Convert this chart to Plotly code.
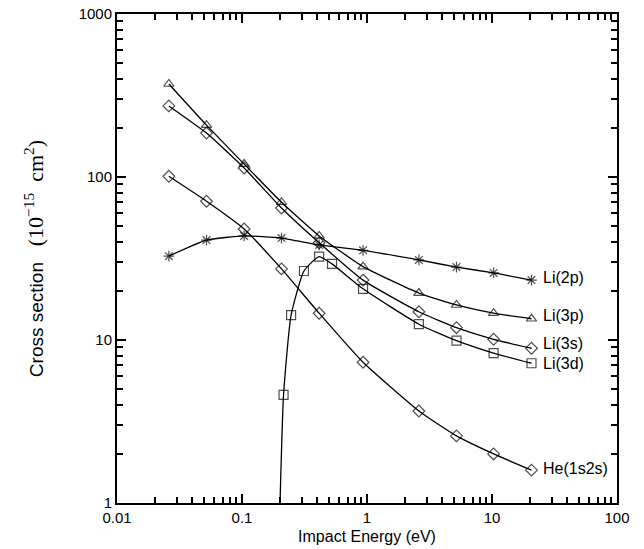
import math
import plotly.graph_objects as go

# Impact energies (eV)
energy = [0.026, 0.052, 0.104, 0.207, 0.414, 0.93, 2.6, 5.2, 10.3, 20.7]
energy_3d = [0.2, 0.215, 0.247, 0.313, 0.414, 0.525, 0.93, 2.6, 5.2, 10.3, 20.7]

li2p = [32.7, 41.0, 43.5, 42.2, 38.3, 35.5, 31.0, 28.0, 25.8, 23.3]
li3p = [372, 208, 120, 70, 43.5, 28.2, 19.4, 16.4, 14.6, 13.5]
li3s = [273, 186, 113.6, 64.5, 39.5, 23.3, 14.9, 11.9, 10.1, 8.9]
li3d = [0.8, 4.6, 14.2, 26.5, 32.5, 29.3, 20.6, 12.5, 9.9, 8.3, 7.2]
he1s2s = [101, 71, 48, 27.3, 14.6, 7.3, 3.67, 2.58, 2.0, 1.59]

x_major = [0.01, 0.1, 1, 10, 100]
x_labels = ["0.01", "0.1", "1", "10", "100"]
y_major = [1, 10, 100, 1000]
y_labels = ["1", "10", "100", "1000"]

series = [
    ("Li(2p)", energy, li2p, "asterisk-open"),
    ("Li(3p)", energy, li3p, "triangle-up-open"),
    ("Li(3s)", energy, li3s, "diamond-open"),
    ("Li(3d)", energy_3d, li3d, "square-open"),
    ("He(1s2s)", energy, he1s2s, "diamond-open"),
]
label_shift = {"Li(2p)": 3, "Li(3p)": 3, "Li(3s)": 5, "Li(3d)": 0, "He(1s2s)": 2}


def minor_ticks(lo, hi):
    vals = []
    for e in range(lo, hi):
        for m in range(2, 10):
            vals.append(m * 10.0 ** e)
    return vals


fig = go.Figure()
for name, xs, ys, sym in series:
    sizes = [9] * len(xs)
    if name == "Li(3d)":
        sizes[0] = 0
    fig.add_trace(go.Scatter(
        x=xs, y=ys, mode="lines+markers", name=name,
        line=dict(color="black", width=1.3, shape="spline", smoothing=0.5),
        marker=dict(symbol=sym, size=sizes, color="black",
                    line=dict(color="black", width=1.2)),
        showlegend=False, cliponaxis=True,
    ))
    fig.add_annotation(x=math.log10(xs[-1]), y=math.log10(ys[-1]), xref="x", yref="y",
                       text=name, showarrow=False, xanchor="left", yanchor="middle",
                       xshift=9, yshift=label_shift[name],
                       font=dict(family="Liberation Sans", size=16, color="black"))

# invisible helper trace so the minor-tick overlay axes are drawn
fig.add_trace(go.Scatter(x=[1.0], y=[10.0], xaxis="x2", yaxis="y2",
                         mode="markers", marker=dict(size=1, opacity=0),
                         showlegend=False, hoverinfo="skip"))

axis_common = dict(
    type="log", showgrid=False, zeroline=False, automargin=False,
    showline=True, linecolor="black", linewidth=2, mirror="ticks",
    ticks="inside", tickcolor="black",
    tickfont=dict(family="Liberation Sans", size=15, color="black"),
)

fig.update_layout(
    width=644, height=549,
    margin=dict(l=117, r=27, t=14, b=46, autoexpand=False),
    paper_bgcolor="white", plot_bgcolor="white",
    xaxis=dict(range=[-2, 2], tickmode="array", tickvals=x_major, ticktext=x_labels,
               ticklen=9, tickwidth=1.5,
               title=dict(text="Impact Energy (eV)", standoff=6,
                          font=dict(family="Liberation Sans", size=16, color="black")),
               **axis_common),
    yaxis=dict(range=[0, 3], tickmode="array", tickvals=y_major, ticktext=y_labels,
               ticklen=9, tickwidth=1.5,
               title=dict(text="Cross section&nbsp;&nbsp;&nbsp;<span style=\"font-family:'Liberation Serif';font-size:22px\">(10<sup>−15</sup>&nbsp;&nbsp;cm<sup>2</sup>)</span>",
                          standoff=30,
                          font=dict(family="Liberation Sans", size=19, color="black")),
               **axis_common),
    xaxis2=dict(overlaying="x", anchor="y2", side="bottom", range=[-2, 2], tickmode="array",
                tickvals=minor_ticks(-2, 2), ticktext=[""] * 32, showticklabels=True,
                ticklen=6, tickwidth=1.6, **axis_common),
    yaxis2=dict(overlaying="y", anchor="x2", side="left", range=[0, 3], tickmode="array",
                tickvals=minor_ticks(0, 3), ticktext=[""] * 24, showticklabels=True,
                ticklen=6, tickwidth=1.6, **axis_common),
)

fig.write_html("out.html")
